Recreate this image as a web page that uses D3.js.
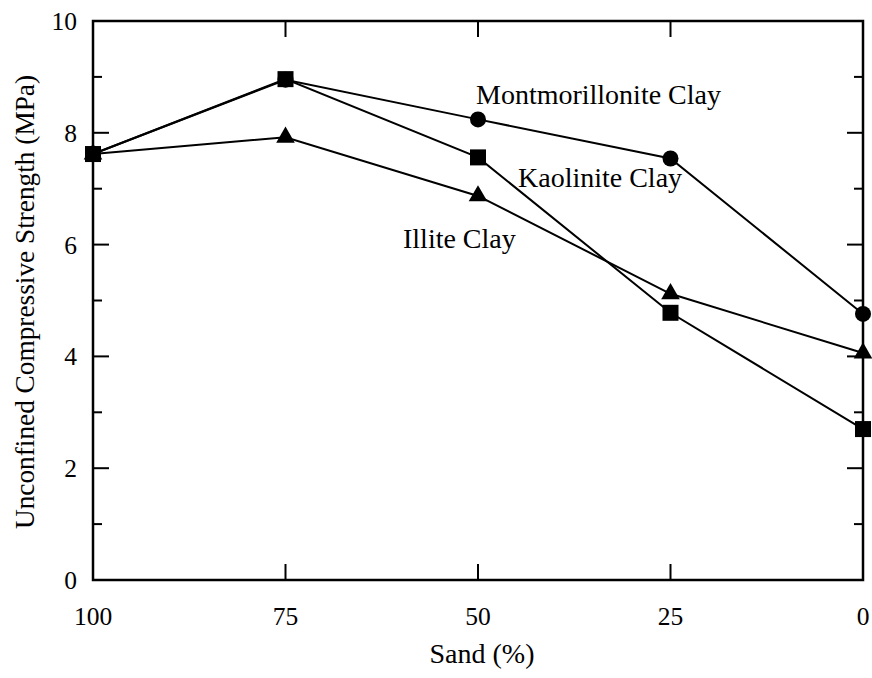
<!DOCTYPE html>
<html>
<head>
<meta charset="utf-8">
<script src="https://cdn.jsdelivr.net/npm/d3@7"></script>
<style>
  html, body { margin: 0; padding: 0; background: #fff; }
  svg { display: block; }
  text { font-family: "Liberation Serif", "Times New Roman", serif; fill: #000; }
</style>
</head>
<body>
<svg id="chart" width="872" height="678"></svg>
<script>
// Sand content (%) on the x axis, reversed from 100 down to 0
const sand = [100, 75, 50, 25, 0];

// Unconfined compressive strength (MPa) for each clay type
const montmorillonite = [7.62, 8.95, 8.24, 7.54, 4.76];
const kaolinite = [7.62, 8.96, 7.56, 4.78, 2.70];
const illite = [7.62, 7.92, 6.87, 5.12, 4.06];

const xTicks = [100, 75, 50, 25, 0];
const yTicks = [0, 2, 4, 6, 8, 10];
const yMinorTicks = [1, 3, 5, 7, 9];

const seriesLabels = ["Montmorillonite Clay", "Kaolinite Clay", "Illite Clay"];

const svg = d3.select("#chart");
const plotL = 93, plotR = 863, plotT = 21, plotB = 580;

const x = d3.scaleLinear().domain([100, 0]).range([plotL, plotR]);
const y = d3.scaleLinear().domain([0, 10]).range([plotB, plotT]);

const tickFs = 25.5, labelFs = 28;

// Plot frame
svg.append("rect")
  .attr("x", plotL).attr("y", plotT)
  .attr("width", plotR - plotL).attr("height", plotB - plotT)
  .attr("fill", "none").attr("stroke", "#000").attr("stroke-width", 2.5);

// Inward ticks on all four sides
const major = 16, minor = 9;
const g = svg.append("g").attr("stroke", "#000").attr("stroke-width", 2);
yTicks.concat(yMinorTicks).forEach(v => {
  const len = yTicks.includes(v) ? major : minor;
  g.append("line").attr("x1", plotL).attr("x2", plotL + len).attr("y1", y(v)).attr("y2", y(v));
  g.append("line").attr("x1", plotR).attr("x2", plotR - len).attr("y1", y(v)).attr("y2", y(v));
});
xTicks.forEach(v => {
  g.append("line").attr("x1", x(v)).attr("x2", x(v)).attr("y1", plotB).attr("y2", plotB - major);
  g.append("line").attr("x1", x(v)).attr("x2", x(v)).attr("y1", plotT).attr("y2", plotT + major);
});

// Tick labels
svg.append("g").selectAll("text").data(yTicks).join("text")
  .attr("x", plotL - 16).attr("y", d => y(d))
  .attr("dy", "0.35em").attr("text-anchor", "end")
  .style("font-size", tickFs + "px")
  .text(d => d);

svg.append("g").selectAll("text").data(xTicks).join("text")
  .attr("x", d => x(d)).attr("y", 625)
  .attr("text-anchor", "middle")
  .style("font-size", tickFs + "px")
  .text(d => d);

// Axis titles
svg.append("text")
  .attr("x", 482).attr("y", 663)
  .attr("text-anchor", "middle")
  .style("font-size", labelFs + "px")
  .text("Sand (%)");

svg.append("text")
  .attr("transform", `translate(34, 302) rotate(-90)`)
  .attr("text-anchor", "middle")
  .style("font-size", "27.3px")
  .text("Unconfined Compressive Strength (MPa)");

// Series lines and markers
const line = d3.line().x((d, i) => x(sand[i])).y(d => y(d));

function drawLine(vals) {
  svg.append("path").datum(vals)
    .attr("d", line)
    .attr("fill", "none").attr("stroke", "#000").attr("stroke-width", 2);
}

drawLine(montmorillonite);
drawLine(illite);
drawLine(kaolinite);

svg.append("g").selectAll("circle").data(montmorillonite).join("circle")
  .attr("cx", (d, i) => x(sand[i])).attr("cy", d => y(d))
  .attr("r", 8).attr("fill", "#000");

const tri = d3.symbol().type(d3.symbolTriangle).size(150);
svg.append("g").selectAll("path").data(illite).join("path")
  .attr("transform", (d, i) => `translate(${x(sand[i])},${y(d)})`)
  .attr("d", tri).attr("fill", "#000");

svg.append("g").selectAll("rect").data(kaolinite).join("rect")
  .attr("x", (d, i) => x(sand[i]) - 8).attr("y", d => y(d) - 8)
  .attr("width", 16).attr("height", 16).attr("fill", "#000");

// Series labels placed beside their curves
const labelPos = [[476, 104], [518, 187], [403, 248]];
svg.append("g").selectAll("text").data(seriesLabels).join("text")
  .attr("x", (d, i) => labelPos[i][0]).attr("y", (d, i) => labelPos[i][1])
  .style("font-size", labelFs + "px")
  .text(d => d);
</script>
</body>
</html>
